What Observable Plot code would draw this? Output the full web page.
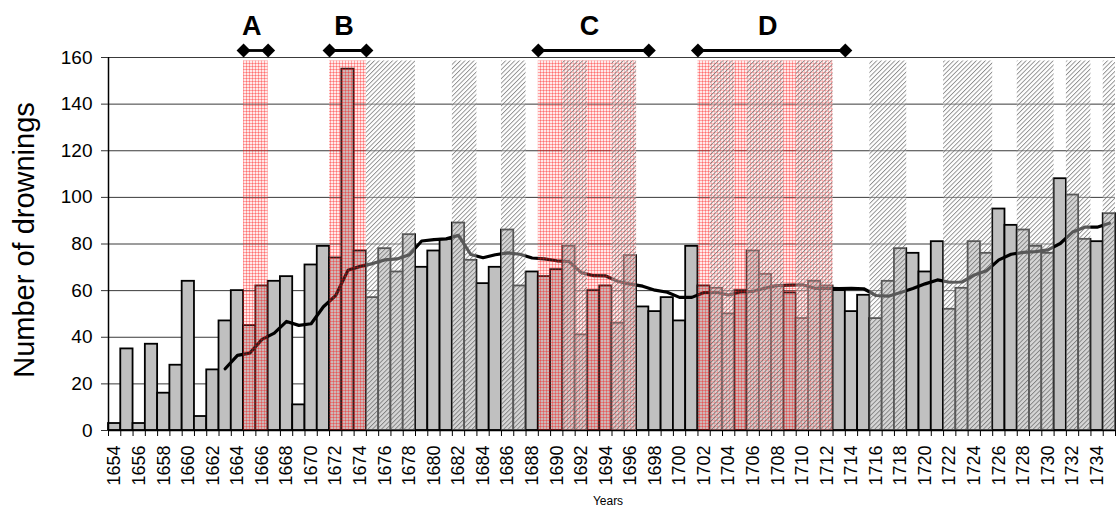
<!DOCTYPE html>
<html>
<head>
<meta charset="utf-8">
<script src="https://cdn.jsdelivr.net/npm/d3@7"></script>
<script src="https://cdn.jsdelivr.net/npm/@observablehq/plot@0.6"></script>
<style>
  html, body { margin: 0; padding: 0; background: #ffffff; }
  #chart svg { display: block; }
</style>
</head>
<body>
<div id="chart"></div>
<script>
// ---- Data ----
const years = [
  1654,1655,1656,1657,1658,1659,1660,1661,1662,1663,
  1664,1665,1666,1667,1668,1669,1670,1671,1672,1673,
  1674,1675,1676,1677,1678,1679,1680,1681,1682,1683,
  1684,1685,1686,1687,1688,1689,1690,1691,1692,1693,
  1694,1695,1696,1697,1698,1699,1700,1701,1702,1703,
  1704,1705,1706,1707,1708,1709,1710,1711,1712,1713,
  1714,1715,1716,1717,1718,1719,1720,1721,1722,1723,
  1724,1725,1726,1727,1728,1729,1730,1731,1732,1733,
  1734,1735
];
const drownings = [
  3,35,3,37,16,28,64,6,26,47,
  60,45,62,64,66,11,71,79,74,155,
  77,57,78,68,84,70,77,82,89,73,
  63,70,86,62,68,66,69,79,41,60,
  62,46,75,53,51,57,47,79,62,61,
  50,60,77,67,62,59,48,64,62,60,
  51,58,48,64,78,76,68,81,52,61,
  81,76,95,88,86,79,76,108,101,82,
  81,93
];
// 10-year moving average trend line (as drawn), aligned with years
const movingAverage = [
  null,null,null,null,null,null,null,null,null,
  26.5,32.2,33.2,39.1,41.8,46.8,45.1,45.8,53.1,57.9,68.7,
  70.4,71.6,73.2,73.6,75.4,81.3,81.9,82.2,83.7,75.5,
  74.1,75.4,76.2,75.6,74.0,73.6,72.8,72.5,67.7,66.4,
  66.3,63.9,62.8,61.9,60.2,59.3,57.1,57.1,59.2,59.3,
  58.1,59.5,59.7,61.1,62.2,62.4,62.5,61.0,61.0,60.9,
  61.0,60.8,57.9,57.6,59.2,60.9,62.9,64.6,63.6,63.7,
  66.7,68.5,73.2,75.6,76.4,76.7,77.5,80.2,85.1,87.2,
  87.2,88.9
];
const yTicks = [0,20,40,60,80,100,120,140,160];
const xLabelYears = [
  1654,1656,1658,1660,1662,1664,1666,1668,1670,1672,1674,1676,1678,1680,
  1682,1684,1686,1688,1690,1692,1694,1696,1698,1700,1702,1704,1706,1708,
  1710,1712,1714,1716,1718,1720,1722,1724,1726,1728,1730,1732,1734
];
// War periods (red shading) and their bracket annotations
const warLabels    = ["A","B","C","D"];
const warStart     = [1665,1672,1689,1702];
const warEnd       = [1666,1674,1696,1712];
const bracketStart = [1665,1672,1689,1702];
const bracketEnd   = [1666,1674,1697,1713];
// Grey hatched periods
const hatchStart = [1675,1682,1686,1691,1695,1703,1706,1710,1716,1722,1728,1732,1735];
const hatchEnd   = [1678,1683,1687,1692,1696,1704,1708,1712,1718,1725,1730,1733,1735];

// ---- Build tables ----
const rows = years.map((year, i) => ({year, value: drownings[i], ma: movingAverage[i]}));
const wars = warLabels.map((label, i) => ({
  label, start: warStart[i], end: warEnd[i], bStart: bracketStart[i], bEnd: bracketEnd[i]
}));
const hatches = hatchStart.map((s, i) => ({start: s, end: hatchEnd[i]}));
const boundaries = years.concat([years[years.length - 1] + 1]);

const font = "'Liberation Sans', Arial, Helvetica, sans-serif";
const narrow = "'Liberation Sans Narrow', 'Arial Narrow', 'Liberation Sans', Arial, sans-serif";

const chart = Plot.plot({
  width: 1116,
  height: 510,
  marginLeft: 108,
  marginRight: 1,
  marginTop: 57,
  marginBottom: 80,
  x: {domain: [years[0], years[years.length - 1] + 1], axis: null},
  y: {domain: [0, 160], axis: null},
  style: {fontFamily: font, background: "#ffffff", color: "#000"},
  marks: [
    // horizontal gridlines
    Plot.ruleY(yTicks.slice(1), {stroke: "#3a3a3a", strokeWidth: 1}),
    // bars
    Plot.rectY(rows, {
      x1: "year", x2: d => d.year + 1, y: "value",
      fill: "#c0c0c0", stroke: "#000", strokeWidth: 1.8
    }),
    // moving-average line
    Plot.line(rows.filter(d => d.ma != null), {
      x: d => d.year + 0.5, y: "ma", stroke: "#000", strokeWidth: 3.2, curve: "linear"
    }),
    // red shaded war periods
    Plot.rectY(wars, {x1: "start", x2: d => d.end + 1, y1: 0, y2: 158.5, fill: "url(#redgrid)"}),
    // grey hatched periods
    Plot.rectY(hatches, {x1: "start", x2: d => d.end + 1, y1: 0, y2: 158.5, fill: "url(#hatch)"}),
    // axes lines
    Plot.ruleX([years[0]], {stroke: "#000", strokeWidth: 1.5}),
    Plot.ruleY([0], {stroke: "#000", strokeWidth: 1.5}),
    Plot.axisY({ticks: yTicks, tickSize: 7, tickPadding: 9, fontSize: 19, label: null, stroke: "#333"}),
    Plot.axisX({ticks: boundaries, tickSize: 6, tickFormat: () => "", label: null, stroke: "#000"}),
    Plot.axisX({
      ticks: xLabelYears.map(y => y + 0.5), tickFormat: d => String(d - 0.5),
      tickSize: 0, tickPadding: 15, tickRotate: -90, fontSize: 18, label: null
    }),
    // bracket annotations
    Plot.ruleY(wars, {x1: "bStart", x2: d => d.bEnd + 1, y: 160, dy: -7, stroke: "#000", strokeWidth: 2.8}),
    Plot.dot(wars, {x: "bStart", y: 160, dy: -7, symbol: "diamond2", r: 6.3, fill: "#000", stroke: "none"}),
    Plot.dot(wars, {x: d => d.bEnd + 1, y: 160, dy: -7, symbol: "diamond2", r: 6.3, fill: "#000", stroke: "none"}),
    Plot.text(wars, {
      x: d => (d.bStart + d.bEnd + 1) / 2, y: 160, dx: -4, dy: -31.5, text: "label",
      fontWeight: "bold", fontSize: 27, fontFamily: narrow, fill: "#000"
    }),
    // axis titles
    Plot.text(["Number of drownings"], {
      text: d => d, frameAnchor: "left", textAnchor: "middle", dx: -84, dy: -4,
      rotate: -90, fontSize: 29, fill: "#000"
    }),
    Plot.text(["Years"], {text: d => d, frameAnchor: "bottom", dx: -4, dy: 74, fontSize: 12, fill: "#000"})
  ]
});

const defs = document.createElementNS("http://www.w3.org/2000/svg", "defs");
defs.innerHTML = `
  <pattern id="redgrid" patternUnits="userSpaceOnUse" width="3" height="3">
    <rect width="3" height="3" fill="#ff9090" fill-opacity="0.2"></rect>
    <rect width="3" height="1" fill="#ff0000" fill-opacity="0.3"></rect>
    <rect width="1" height="3" fill="#ff0000" fill-opacity="0.3"></rect>
  </pattern>
  <pattern id="hatch" patternUnits="userSpaceOnUse" width="3.2" height="3.2" patternTransform="rotate(45)">
    <rect width="3.2" height="3.2" fill="#ffffff" fill-opacity="0.35"></rect>
    <rect width="0.9" height="3.2" fill="#555555" fill-opacity="0.68"></rect>
  </pattern>`;
chart.insertBefore(defs, chart.firstChild);
document.getElementById("chart").appendChild(chart);
</script>
</body>
</html>
